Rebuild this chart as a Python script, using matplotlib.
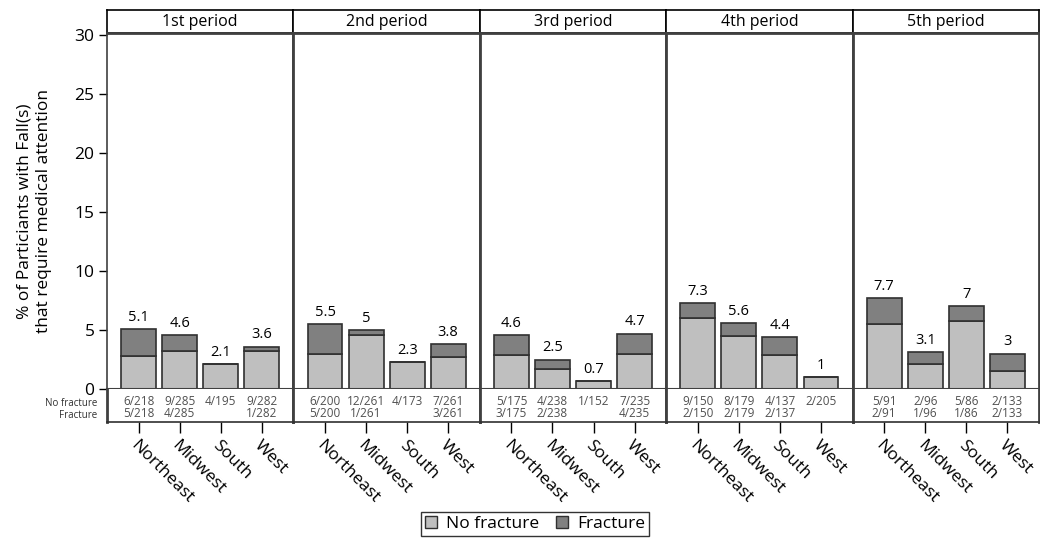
import matplotlib
matplotlib.use("Agg")
import matplotlib.pyplot as plt
from matplotlib.patches import Patch

plt.rcParams["font.family"] = ["Open Sans", "DejaVu Sans"]

# ── Data ────────────────────────────────────────────────────────────────
periods = ["1st period", "2nd period", "3rd period", "4th period", "5th period"]
regions = ["Northeast", "Midwest", "South", "West"]
# falls without fracture / with fracture, and participants, per period x region
nofrac_n = [[6, 9, 4, 9], [6, 12, 4, 7], [5, 4, 1, 7], [9, 8, 4, 2], [5, 2, 5, 2]]
frac_n = [[5, 4, 0, 1], [5, 1, 0, 3], [3, 2, 0, 4], [2, 2, 2, 0], [2, 1, 1, 2]]
n_total = [[218, 285, 195, 282], [200, 261, 173, 261], [175, 238, 152, 235],
           [150, 179, 137, 205], [91, 96, 86, 133]]

LIGHT = "#BFBFBF"
DARK = "#808080"
EDGE = "#303030"
SEP = "#404040"

W, H = 1040, 543
fig = plt.figure(figsize=(W / 100, H / 100), dpi=100)


def px_axes(x0, y0, x1, y1):
    return fig.add_axes([x0 / W, 1 - y1 / H, (x1 - x0) / W, (y1 - y0) / H])


left, right = 107, 1039
top_hdr, top_plot, bot_plot, bot_tab = 10, 33, 389, 422
pw = (right - left) / len(periods)
xlim = (-0.77, 3.77)

for p, period in enumerate(periods):
    x0 = left + p * pw
    x1 = x0 + pw

    # header strip
    hx = px_axes(x0, top_hdr, x1, top_plot)
    hx.set_xticks([]); hx.set_yticks([])
    for s in hx.spines.values():
        s.set_color("black"); s.set_linewidth(1.2)
    hx.text(0.5, 0.5, period, ha="center", va="center", fontsize=11.5)

    # bars (percentages rounded to one decimal, as in the source table)
    ax = px_axes(x0, top_plot, x1, bot_plot)
    nf = [round(100 * a / n, 1) for a, n in zip(nofrac_n[p], n_total[p])]
    fr = [round(100 * b / n, 1) for b, n in zip(frac_n[p], n_total[p])]
    xs = range(len(regions))
    ax.bar(xs, nf, width=0.85, color=LIGHT, edgecolor=EDGE, linewidth=1.2, zorder=2)
    ax.bar(xs, fr, bottom=nf, width=0.85, color=DARK, edgecolor=EDGE, linewidth=1.2, zorder=2)
    for i in xs:
        tot = round(nf[i] + fr[i], 1)
        ax.annotate(f"{tot:g}", (i, tot), xytext=(0, 3),
                    textcoords="offset points", ha="center", va="bottom", fontsize=10.5)
    ax.set_xlim(*xlim)
    ax.set_ylim(0, 30.2)
    ax.set_xticks([])
    for s in ("top", "bottom"):
        ax.spines[s].set_color(SEP); ax.spines[s].set_linewidth(1.5)
    ax.spines["top"].set_linewidth(2)
    for s in ("left", "right"):
        ax.spines[s].set_color(SEP); ax.spines[s].set_linewidth(2)
    if p == 0:
        ax.spines["left"].set_linewidth(1.2)
        ax.set_yticks(range(0, 31, 5))
        ax.tick_params(axis="y", length=6, width=1, labelsize=12.5, pad=3, colors="black")
    else:
        ax.set_yticks([])

    # count table
    tx = px_axes(x0, bot_plot, x1, bot_tab)
    tx.set_xlim(*xlim); tx.set_ylim(0, 1)
    tx.set_yticks([])
    for s in ("left", "right"):
        tx.spines[s].set_color(SEP); tx.spines[s].set_linewidth(2)
    tx.spines["bottom"].set_color(EDGE); tx.spines["bottom"].set_linewidth(1.2)
    tx.spines["top"].set_visible(False)
    for i in xs:
        tx.text(i, 0.62, f"{nofrac_n[p][i]}/{n_total[p][i]}", ha="center", va="center",
                fontsize=8.5, color="#505050")
        if frac_n[p][i] > 0:
            tx.text(i, 0.26, f"{frac_n[p][i]}/{n_total[p][i]}", ha="center", va="center",
                    fontsize=8.5, color="#505050")
    tx.set_xticks(list(xs))
    tx.set_xticklabels(regions, rotation=-45, ha="left", va="top",
                       rotation_mode="anchor", fontsize=12.5)
    tx.tick_params(axis="x", length=8, width=1, pad=3)
    for lbl in tx.get_xticklabels():
        lbl.set_x(lbl.get_position()[0] - 0.12)

fig.text(97 / W, 1 - 404 / H, "No fracture", ha="right", va="center", fontsize=7, color="#303030")
fig.text(97 / W, 1 - 415 / H, "Fracture", ha="right", va="center", fontsize=7, color="#303030")

fig.text(34 / W, 1 - 211 / H, "% of Particiants with Fall(s)\nthat require medical attention",
         rotation=90, ha="center", va="center", fontsize=12.5, linespacing=1.3)

handles = [Patch(facecolor=LIGHT, edgecolor=EDGE), Patch(facecolor=DARK, edgecolor=EDGE)]
leg = fig.legend(handles, ["No fracture", "Fracture"], loc="center",
                 bbox_to_anchor=(535 / W, 1 - 524 / H), ncol=2, fontsize=12.5,
                 frameon=True, fancybox=False, edgecolor="black",
                 handlelength=0.7, handleheight=0.7, handletextpad=0.5,
                 columnspacing=1.0, borderpad=0.2)
leg.get_frame().set_linewidth(1)

fig.savefig("out.png", dpi=100)
